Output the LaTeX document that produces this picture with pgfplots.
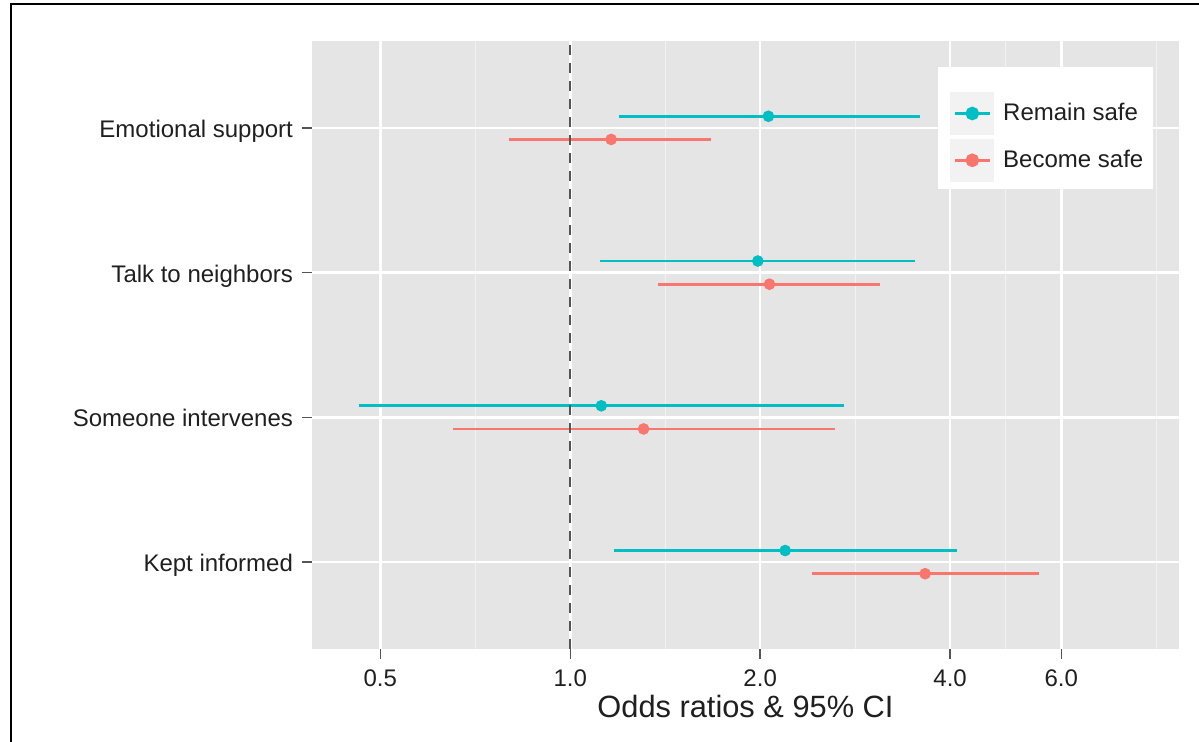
\documentclass[border=0pt]{standalone}
\usepackage{pgfplots}
\pgfplotsset{compat=1.18}
\usepackage{fontspec}
\setmainfont{Liberation Sans}
\definecolor{cteal}{HTML}{00BFC4}
\definecolor{cred}{HTML}{F8766D}
\definecolor{panelbg}{HTML}{E5E5E5}
\definecolor{keybg}{HTML}{F2F2F2}
\definecolor{refline}{HTML}{555555}
\definecolor{txt}{HTML}{1F1F1F}
\pgfplotsset{keyimg/.style={legend image code/.code={
   \fill[keybg] (0pt,-10pt) rectangle (20.5pt,10pt);
   \draw[##1, mark repeat=2, mark phase=2] plot coordinates {(1.5pt,0pt) (10.25pt,0pt) (19pt,0pt)};}}}
\begin{document}
\begin{tikzpicture}[x=1pt,y=1pt]
\useasboundingbox (0,0) rectangle (599.5,371);
\draw[line width=1pt,black] (5.5,0) -- (5.5,368.85) -- (599.5,368.85);
\begin{axis}[
  at={(156pt,46.5pt)}, anchor=south west,
  scale only axis, width=433.5pt, height=304pt,
  xmode=log,
  xmin=0.3898, xmax=9.22,
  ymin=0.4, ymax=4.6,
  axis background/.style={fill=panelbg},
  axis line style={draw=none},
  xtick={0.5,1,2,4,6}, xticklabels={0.5,1.0,2.0,4.0,6.0},
  minor xtick={0.7071,1.4142,2.8284,4.899,8.5},
  ytick={1,2,3,4},
  yticklabels={Kept informed,Someone intervenes,Talk to neighbors,Emotional support},
  grid=both,
  major grid style={white, line width=1.3pt},
  minor grid style={keybg, line width=0.6pt},
  tick align=outside, major tick length=5pt, minor tick length=0pt,
  xtick pos=left, ytick pos=left,
  tick style={color=refline, line width=0.7pt},
  xticklabel style={font=\fontsize{12}{14}\selectfont, text=txt, anchor=base, yshift=-14pt},
  yticklabel style={font=\fontsize{12}{14}\selectfont, text=txt, anchor=base east, xshift=-1pt, yshift=-4.8pt},
  xlabel={Odds ratios \& 95\% CI},
  xlabel style={at={(axis description cs:0.5,0)}, anchor=base, yshift=-34.5pt, font=\fontsize{15.4}{18}\selectfont, text=txt},
  legend cell align=left,
  legend style={at={(0.7359,0.9166)}, anchor=north west, draw=none, fill=none,
    inner sep=0pt, row sep=2pt, column sep=4.5pt, nodes={inner sep=0pt},
    font=\fontsize{12}{14}\selectfont, text=txt},
]
\addlegendimage{keyimg, cteal, line width=1.4pt, mark=*, mark size=2.7pt}
\addlegendentry{Remain safe}
\addlegendimage{keyimg, cred, line width=1.4pt, mark=*, mark size=2.7pt}
\addlegendentry{Become safe}

\fill[white] (rel axis cs:0.7217,0.756) rectangle (rel axis cs:0.970,0.9567);

% Remain safe (teal) confidence intervals
\addplot[cteal, line width=1.4pt] coordinates {(1.193,4.08) (3.585,4.08)};
\addplot[cteal, line width=1.4pt] coordinates {(1.113,3.08) (3.520,3.08)};
\addplot[cteal, line width=1.4pt] coordinates {(0.462,2.08) (2.717,2.08)};
\addplot[cteal, line width=1.4pt] coordinates {(1.174,1.08) (4.099,1.08)};
% Become safe (red) confidence intervals
\addplot[cred, line width=1.4pt] coordinates {(0.801,3.92) (1.673,3.92)};
\addplot[cred, line width=1.4pt] coordinates {(1.380,2.92) (3.099,2.92)};
\addplot[cred, line width=1.4pt] coordinates {(0.652,1.92) (2.629,1.92)};
\addplot[cred, line width=1.4pt] coordinates {(2.415,0.92) (5.541,0.92)};
% reference line
\addplot[refline, line width=1.1pt, dash pattern=on 5pt off 4pt] coordinates {(1,0.4) (1,4.6)};
% point estimates
\addplot[only marks, mark=*, mark size=2.7pt, cteal] coordinates {(2.061,4.08) (1.983,3.08) (1.120,2.08) (2.191,1.08)};
\addplot[only marks, mark=*, mark size=2.7pt, cred] coordinates {(1.161,3.92) (2.069,2.92) (1.307,1.92) (3.651,0.92)};
\end{axis}
\end{tikzpicture}
\end{document}
